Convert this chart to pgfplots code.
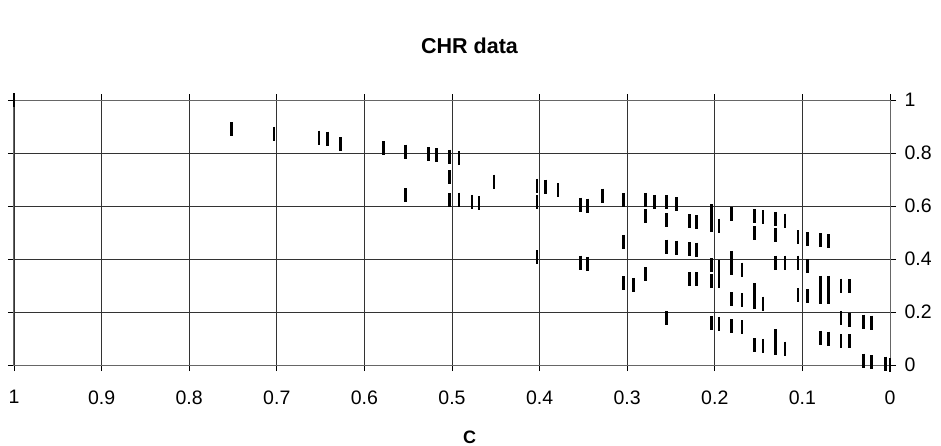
\documentclass[border=0pt]{standalone}
\usepackage{pgfplots}
\pgfplotsset{compat=1.18}
\usepackage{fontspec}
\setmainfont{Liberation Sans}
\setsansfont{Liberation Sans}

\pgfplotstableread{
x y
1.000 1.000
0.752 0.890
0.703 0.872
0.652 0.858
0.642 0.854
0.627 0.833
0.578 0.818
0.553 0.805
0.527 0.796
0.518 0.792
0.503 0.786
0.492 0.781
0.503 0.708
0.553 0.640
0.503 0.623
0.492 0.624
0.477 0.616
0.469 0.611
0.452 0.692
0.403 0.677
0.393 0.673
0.379 0.660
0.403 0.616
0.353 0.605
0.345 0.601
0.328 0.639
0.403 0.406
0.353 0.386
0.345 0.382
0.304 0.623
0.279 0.623
0.279 0.562
0.269 0.616
0.304 0.465
0.304 0.308
0.293 0.302
0.279 0.343
0.255 0.615
0.255 0.547
0.244 0.607
0.229 0.543
0.221 0.538
0.255 0.447
0.244 0.443
0.229 0.437
0.221 0.435
0.229 0.323
0.221 0.323
0.255 0.176
0.204 0.581
0.204 0.529
0.204 0.377
0.204 0.317
0.204 0.158
0.195 0.526
0.195 0.370
0.195 0.317
0.195 0.155
0.181 0.569
0.181 0.404
0.181 0.366
0.181 0.249
0.181 0.147
0.169 0.360
0.169 0.245
0.169 0.143
0.155 0.562
0.155 0.497
0.155 0.283
0.155 0.238
0.155 0.075
0.145 0.557
0.145 0.232
0.145 0.072
0.131 0.551
0.131 0.491
0.131 0.386
0.131 0.108
0.131 0.065
0.120 0.545
0.120 0.386
0.120 0.062
0.105 0.483
0.105 0.386
0.105 0.264
0.094 0.475
0.094 0.372
0.094 0.260
0.079 0.470
0.079 0.310
0.079 0.257
0.079 0.102
0.070 0.467
0.070 0.310
0.070 0.255
0.070 0.100
0.056 0.300
0.056 0.178
0.056 0.090
0.046 0.297
0.046 0.170
0.046 0.090
0.030 0.164
0.030 0.017
0.021 0.160
0.021 0.010
0.005 0.005
0.000 0.000
}\chrdata

\begin{document}
\begin{tikzpicture}
    \useasboundingbox (-14pt,-80pt) rectangle (927pt,365pt);
    \begin{axis}[
        scale only axis,
        width=876pt,
        height=265pt,
        at={(0,0)}, anchor=south west,
        xmin=0, xmax=1,
        ymin=0, ymax=1,
        x dir=reverse,
        xtick={0,0.1,...,1},
        ytick={0,0.2,...,1},
        xticklabels={0,0.1,0.2,0.3,0.4,0.5,0.6,0.7,0.8,0.9,1},
        yticklabels={0,0.2,0.4,0.6,0.8,1},
        yticklabel pos=right,
        tick align=outside,
        major tick length=6pt,
        tick style={black, line width=0.8pt},
        grid=major,
        major grid style={black!80, line width=0.8pt},
        axis line style={black!60, line width=1pt},
        xticklabel style={font=\fontsize{19.5}{22}\selectfont, yshift=-16pt},
        yticklabel style={font=\fontsize{19.5}{22}\selectfont, xshift=5pt},
        title={CHR data},
        title style={at={(0.52,1)}, anchor=base, yshift=41pt,
            font=\fontsize{21.5}{24}\selectfont\bfseries},
        xlabel={C},
        xlabel style={at={(0.52,0)}, anchor=base, yshift=-78pt,
            font=\fontsize{18}{21}\selectfont\bfseries},
        clip=false
    ]
        \addplot[
            only marks,
            mark=|,
            mark size=7pt,
            mark options={line width=2.6pt, black}
        ] table[x=x, y=y] {\chrdata};
    \end{axis}
\end{tikzpicture}
\end{document}
